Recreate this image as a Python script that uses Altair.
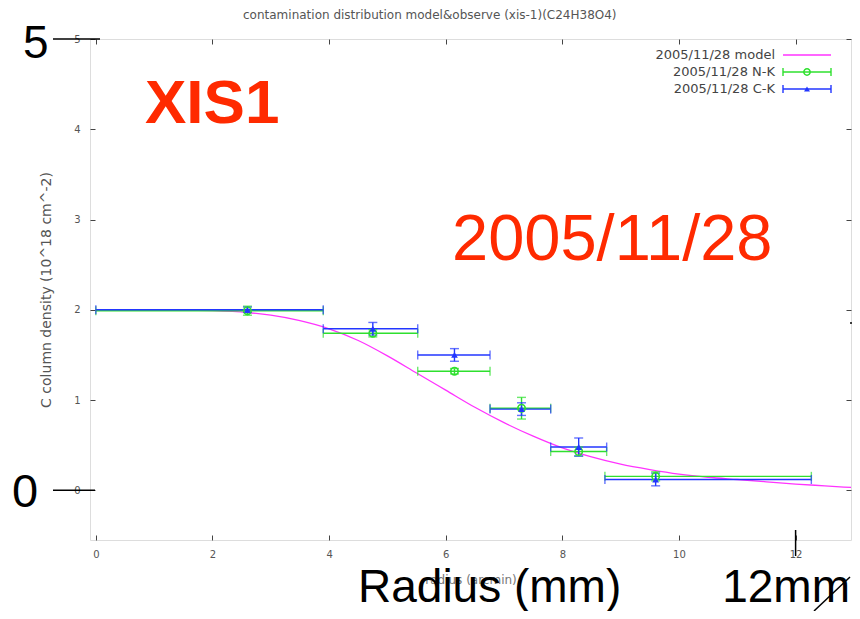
import altair as alt
import pandas as pd

# ---------------- data ----------------
model_r = [0, 1, 2, 2.6, 3, 3.5, 4, 4.5, 5, 5.5, 6, 6.5, 7, 7.5, 8, 8.5, 9, 9.5, 10, 10.5, 11, 11.5, 12, 12.5, 13]
model_n = [2.00, 2.00, 1.99, 1.97, 1.94, 1.88, 1.79, 1.66, 1.49, 1.30, 1.11, 0.92, 0.75, 0.60, 0.47, 0.37,
           0.29, 0.23, 0.18, 0.145, 0.12, 0.095, 0.07, 0.05, 0.03]

obs_x = [2.6, 4.75, 6.15, 7.3, 8.28, 9.6]
obs_xlo = [0.0, 3.9, 5.52, 6.76, 7.8, 8.73]
obs_xhi = [3.9, 5.52, 6.76, 7.8, 8.76, 12.27]

nk_y = [1.99, 1.74, 1.32, 0.91, 0.43, 0.155]
nk_err = [0.05, 0.04, 0.03, 0.12, 0.05, 0.05]
ck_y = [2.00, 1.79, 1.50, 0.90, 0.48, 0.12]
ck_err = [0.03, 0.07, 0.07, 0.07, 0.10, 0.07]

series_names = ["2005/11/28 model", "2005/11/28 N-K", "2005/11/28 C-K"]
x_ticks = [0, 2, 4, 6, 8, 10, 12]
y_ticks = [0, 1, 2, 3, 4, 5]

title_text = "contamination distribution model&observe (xis-1)(C24H38O4)"
x_title = "radius (arcmin)"
y_title = "C column density (10^18 cm^-2)"
slide_texts = ["XIS1", "2005/11/28", "5", "0", "Radius (mm)", "12mm"]

# ---------------- styling ----------------
C_MODEL = "#ff33ff"
C_NK = "#2ee02e"
C_CK = "#2236ff"
RED = "#ff2a00"
FONT = "Liberation Sans"
GFONT = "DejaVu Sans"
W, H = 761, 501

model_df = pd.DataFrame({"r": model_r, "n": model_n})

rows = []
for i in range(len(obs_x)):
    rows.append(dict(series=series_names[1], x=obs_x[i], xlo=obs_xlo[i], xhi=obs_xhi[i],
                     y=nk_y[i], ylo=nk_y[i] - nk_err[i], yhi=nk_y[i] + nk_err[i]))
for i in range(len(obs_x)):
    rows.append(dict(series=series_names[2], x=obs_x[i], xlo=obs_xlo[i], xhi=obs_xhi[i],
                     y=ck_y[i], ylo=ck_y[i] - ck_err[i], yhi=ck_y[i] + ck_err[i]))
obs_df = pd.DataFrame(rows)

xs = alt.Scale(domain=[-0.1, 12.95], nice=False, zero=False)
ys = alt.Scale(domain=[-0.55, 5.0], nice=False, zero=False)
col = alt.Color("series:N", scale=alt.Scale(domain=series_names[1:], range=[C_NK, C_CK]), legend=None)

inward = alt.ExprRef(expr="-5")

# axes-defining layer (bottom / left with labels)
axis_layer = alt.Chart(model_df).mark_line(color=C_MODEL, strokeWidth=1.3, clip=True,
                                           interpolate="monotone").encode(
    x=alt.X("r:Q", scale=xs, axis=alt.Axis(
        orient="bottom", values=x_ticks, tickSize=inward, labelPadding=14, domain=False, grid=False,
        tickColor="#444", tickWidth=1, labelFont=GFONT, labelFontSize=10, labelColor="#555",
        title=x_title, titleFont=GFONT, titleFontSize=12, titleFontWeight="normal",
        titleColor="#777", titlePadding=15)),
    y=alt.Y("n:Q", scale=ys, axis=alt.Axis(
        orient="left", values=y_ticks, tickSize=inward, labelPadding=15, domain=False, grid=False,
        tickColor="#444", tickWidth=1, labelFont=GFONT, labelFontSize=10, labelColor="#555",
        title=y_title, titleFont=GFONT, titleFontSize=14, titleFontWeight="normal",
        titleColor="#555", titlePadding=20)),
)

# mirror tick axes (top / right)
mirror_layer = alt.Chart(model_df).mark_point(opacity=0).encode(
    x=alt.X("r:Q", scale=xs, axis=alt.Axis(
        orient="top", values=x_ticks, tickSize=inward, labels=False, domain=False, grid=False,
        tickColor="#444", tickWidth=1, title=None)),
    y=alt.Y("n:Q", scale=ys, axis=alt.Axis(
        orient="right", values=y_ticks, tickSize=inward, labels=False, domain=False, grid=False,
        tickColor="#444", tickWidth=1, title=None)),
)

obs = alt.Chart(obs_df)
xbar = obs.mark_rule(strokeWidth=1.4).encode(
    x=alt.X("xlo:Q", scale=xs, axis=None), x2="xhi:Q",
    y=alt.Y("y:Q", scale=ys, axis=None), color=col)
xcap_lo = obs.mark_tick(orient="vertical", size=9, thickness=1.4).encode(
    x=alt.X("xlo:Q", scale=xs, axis=None), y=alt.Y("y:Q", scale=ys, axis=None), color=col)
xcap_hi = obs.mark_tick(orient="vertical", size=9, thickness=1.4).encode(
    x=alt.X("xhi:Q", scale=xs, axis=None), y=alt.Y("y:Q", scale=ys, axis=None), color=col)
ybar = obs.mark_rule(strokeWidth=1.4).encode(
    x=alt.X("x:Q", scale=xs, axis=None),
    y=alt.Y("ylo:Q", scale=ys, axis=None), y2="yhi:Q", color=col)
ycap_lo = obs.mark_tick(orient="horizontal", size=9, thickness=1.4).encode(
    x=alt.X("x:Q", scale=xs, axis=None), y=alt.Y("ylo:Q", scale=ys, axis=None), color=col)
ycap_hi = obs.mark_tick(orient="horizontal", size=9, thickness=1.4).encode(
    x=alt.X("x:Q", scale=xs, axis=None), y=alt.Y("yhi:Q", scale=ys, axis=None), color=col)

nk_pts = alt.Chart(obs_df[obs_df.series == series_names[1]]).mark_point(
    shape="circle", filled=False, size=55, strokeWidth=1.6, color=C_NK, opacity=1).encode(
    x=alt.X("x:Q", scale=xs, axis=None), y=alt.Y("y:Q", scale=ys, axis=None))
ck_pts = alt.Chart(obs_df[obs_df.series == series_names[2]]).mark_point(
    shape="triangle-up", filled=True, size=45, color=C_CK, opacity=1).encode(
    x=alt.X("x:Q", scale=xs, axis=None), y=alt.Y("y:Q", scale=ys, axis=None))

one = pd.DataFrame({"a": [0]})


def txt(s, x, y, size, color, align="left", weight="normal", baseline="alphabetic", font=FONT):
    return alt.Chart(one).mark_text(align=align, baseline=baseline, fontSize=size, font=font,
                                    fontWeight=weight, color=color).encode(
        x=alt.value(x), y=alt.value(y), text=alt.value(s))


def seg(x1, y1, x2, y2, color="black", w=1.5):
    return alt.Chart(one).mark_rule(color=color, strokeWidth=w).encode(
        x=alt.value(x1), y=alt.value(y1), x2=alt.value(x2), y2=alt.value(y2))


# gnuplot-style legend (labels left of samples)
legend_layers = []
leg_y = [16, 33, 50]
leg_colors = [C_MODEL, C_NK, C_CK]
for i, name in enumerate(series_names):
    yy = leg_y[i]
    legend_layers.append(txt(name, 685, yy, 13, "#444", align="right", baseline="middle", font=GFONT))
    legend_layers.append(seg(693, yy, 741, yy, leg_colors[i], 1.4))
    if i > 0:
        legend_layers.append(seg(693, yy - 4, 693, yy + 4, leg_colors[i], 1.4))
        legend_layers.append(seg(741, yy - 4, 741, yy + 4, leg_colors[i], 1.4))
        shape = "circle" if i == 1 else "triangle-up"
        legend_layers.append(alt.Chart(one).mark_point(
            shape=shape, filled=(i == 2), size=40 if i == 1 else 35, strokeWidth=1.5,
            color=leg_colors[i], opacity=1).encode(x=alt.value(717), y=alt.value(yy)))

# slide annotations
annot = [
    txt(title_text, 153, -20, 12, "#555", font=GFONT),
    txt(slide_texts[0], 55, 84, 62, RED, weight="bold"),
    txt(slide_texts[1], 362, 221, 65, RED),
    txt(slide_texts[2], -67, 19, 46, "black"),
    txt(slide_texts[3], -78, 468, 47, "black"),
    txt(slide_texts[4], 268, 563, 46, "black"),
    txt(slide_texts[5], 760, 563, 46, "black", align="right"),
    alt.Chart(one).mark_rule(color="black", strokeWidth=1.5).encode(
        y=alt.Y("v:Q", scale=ys, axis=None), x=alt.value(-37), x2=alt.value(10)).transform_calculate(v="5"),
    alt.Chart(one).mark_rule(color="black", strokeWidth=1.5).encode(
        y=alt.Y("v:Q", scale=ys, axis=None), x=alt.value(-37), x2=alt.value(5)).transform_calculate(v="0"),
    alt.Chart(one).mark_rule(color="black", strokeWidth=1.5).encode(
        x=alt.X("v:Q", scale=xs, axis=None), y=alt.value(491), y2=alt.value(517)).transform_calculate(v="12"),
    seg(760, 284, 775, 284),
    seg(724, 572, 760, 538),
]

chart = alt.layer(
    mirror_layer, axis_layer,
    xbar, xcap_lo, xcap_hi, ybar, ycap_lo, ycap_hi, nk_pts, ck_pts,
    *legend_layers, *annot
).properties(
    width=W, height=H,
    autosize=alt.AutoSizeParams(type="none"),
    padding={"left": 82, "top": 31, "right": 1, "bottom": 71},
).configure_view(stroke="#333", strokeWidth=1.6).configure(background="white")

chart.save("out.html", embed_options={"renderer": "svg", "actions": False})
